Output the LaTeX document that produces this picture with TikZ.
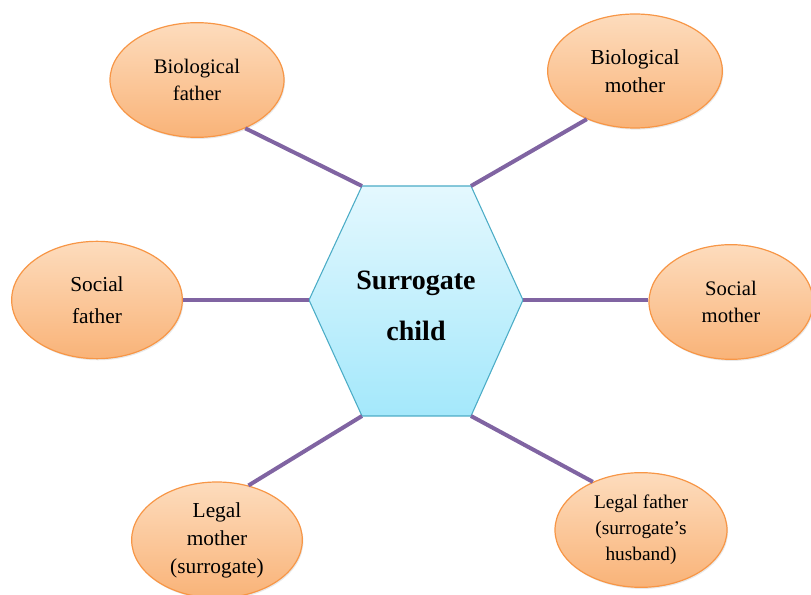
\documentclass[tikz,border=0pt]{standalone}
\usepackage{fontspec}
\setmainfont{Liberation Serif}
\usetikzlibrary{shapes.geometric,shadows}

\definecolor{peachtop}{HTML}{FDDCBD}
\definecolor{peachbot}{HTML}{F9B378}
\definecolor{peachedge}{HTML}{F79646}
\definecolor{skytop}{HTML}{E4F8FE}
\definecolor{skybot}{HTML}{A4E8FB}
\definecolor{skyedge}{HTML}{4BACC6}
\definecolor{linkviolet}{HTML}{8064A2}

\begin{document}
\begin{tikzpicture}[
    x=0.75pt, y=-0.75pt,
    person/.style={ellipse, draw=peachedge, line width=0.9pt,
                   top color=peachtop, bottom color=peachbot,
                   inner sep=0pt, align=center,
                   font=\fontsize{15.5}{20.5}\selectfont,
                   drop shadow={opacity=0.18, shadow xshift=0.8pt, shadow yshift=-1.2pt}},
    core/.style={draw=skyedge, line width=0.8pt, top color=skytop, bottom color=skybot},
    corelabel/.style={align=center, font=\fontsize{21}{38}\selectfont\bfseries},
    link/.style={draw=linkviolet, line width=3pt},
  ]
  \useasboundingbox (0,0) rectangle (811,595);

  % === Centre hexagon ===
  \coordinate (hexNW) at (362,186);
  \coordinate (hexNE) at (471,186);
  \coordinate (hexE)  at (523,300);
  \coordinate (hexSE) at (471,416);
  \coordinate (hexSW) at (362,416);
  \coordinate (hexW)  at (309,300);
  \path[core] (hexNW) -- (hexNE) -- (hexE) -- (hexSE) -- (hexSW) -- (hexW) -- cycle;
  \node[corelabel] (child) at (416,306) {Surrogate\\child};

  % === Parents round the child ===
  \node[person, minimum width=130.5pt, minimum height=86pt] (biofather) at (197,80)
    {Biological\\father};
  \node[person, minimum width=131pt, minimum height=85.5pt,
        font=\fontsize{16}{21}\selectfont] (biomother) at (635,71)
    {Biological\\mother};
  \node[person, minimum width=128pt, minimum height=88pt,
        font=\fontsize{16}{24}\selectfont] (socfather) at (97,300)
    {Social\\father};
  \node[person, minimum width=123pt, minimum height=86pt] (socmother) at (731,302)
    {Social\\mother};
  \node[person, minimum width=128pt, minimum height=87pt,
        font=\fontsize{16}{21}\selectfont] (legmother) at (217,540)
    {Legal\\mother\\(surrogate)};
  \node[person, minimum width=129pt, minimum height=86pt,
        font=\fontsize{14.5}{19.5}\selectfont] (legfather) at (641,530)
    {Legal father\\(surrogate’s\\husband)};

  % === Links ===
  \draw[link] (biofather.-45) -- (hexNW);
  \draw[link] (biomother.-135) -- (hexNE);
  \draw[link] (socfather.east |- hexW) -- (hexW);
  \draw[link] (hexE) -- (socmother.west |- hexE);
  \draw[link] (legmother.60) -- (hexSW);
  \draw[link] (legfather.135) -- (hexSE);

\end{tikzpicture}
\end{document}
